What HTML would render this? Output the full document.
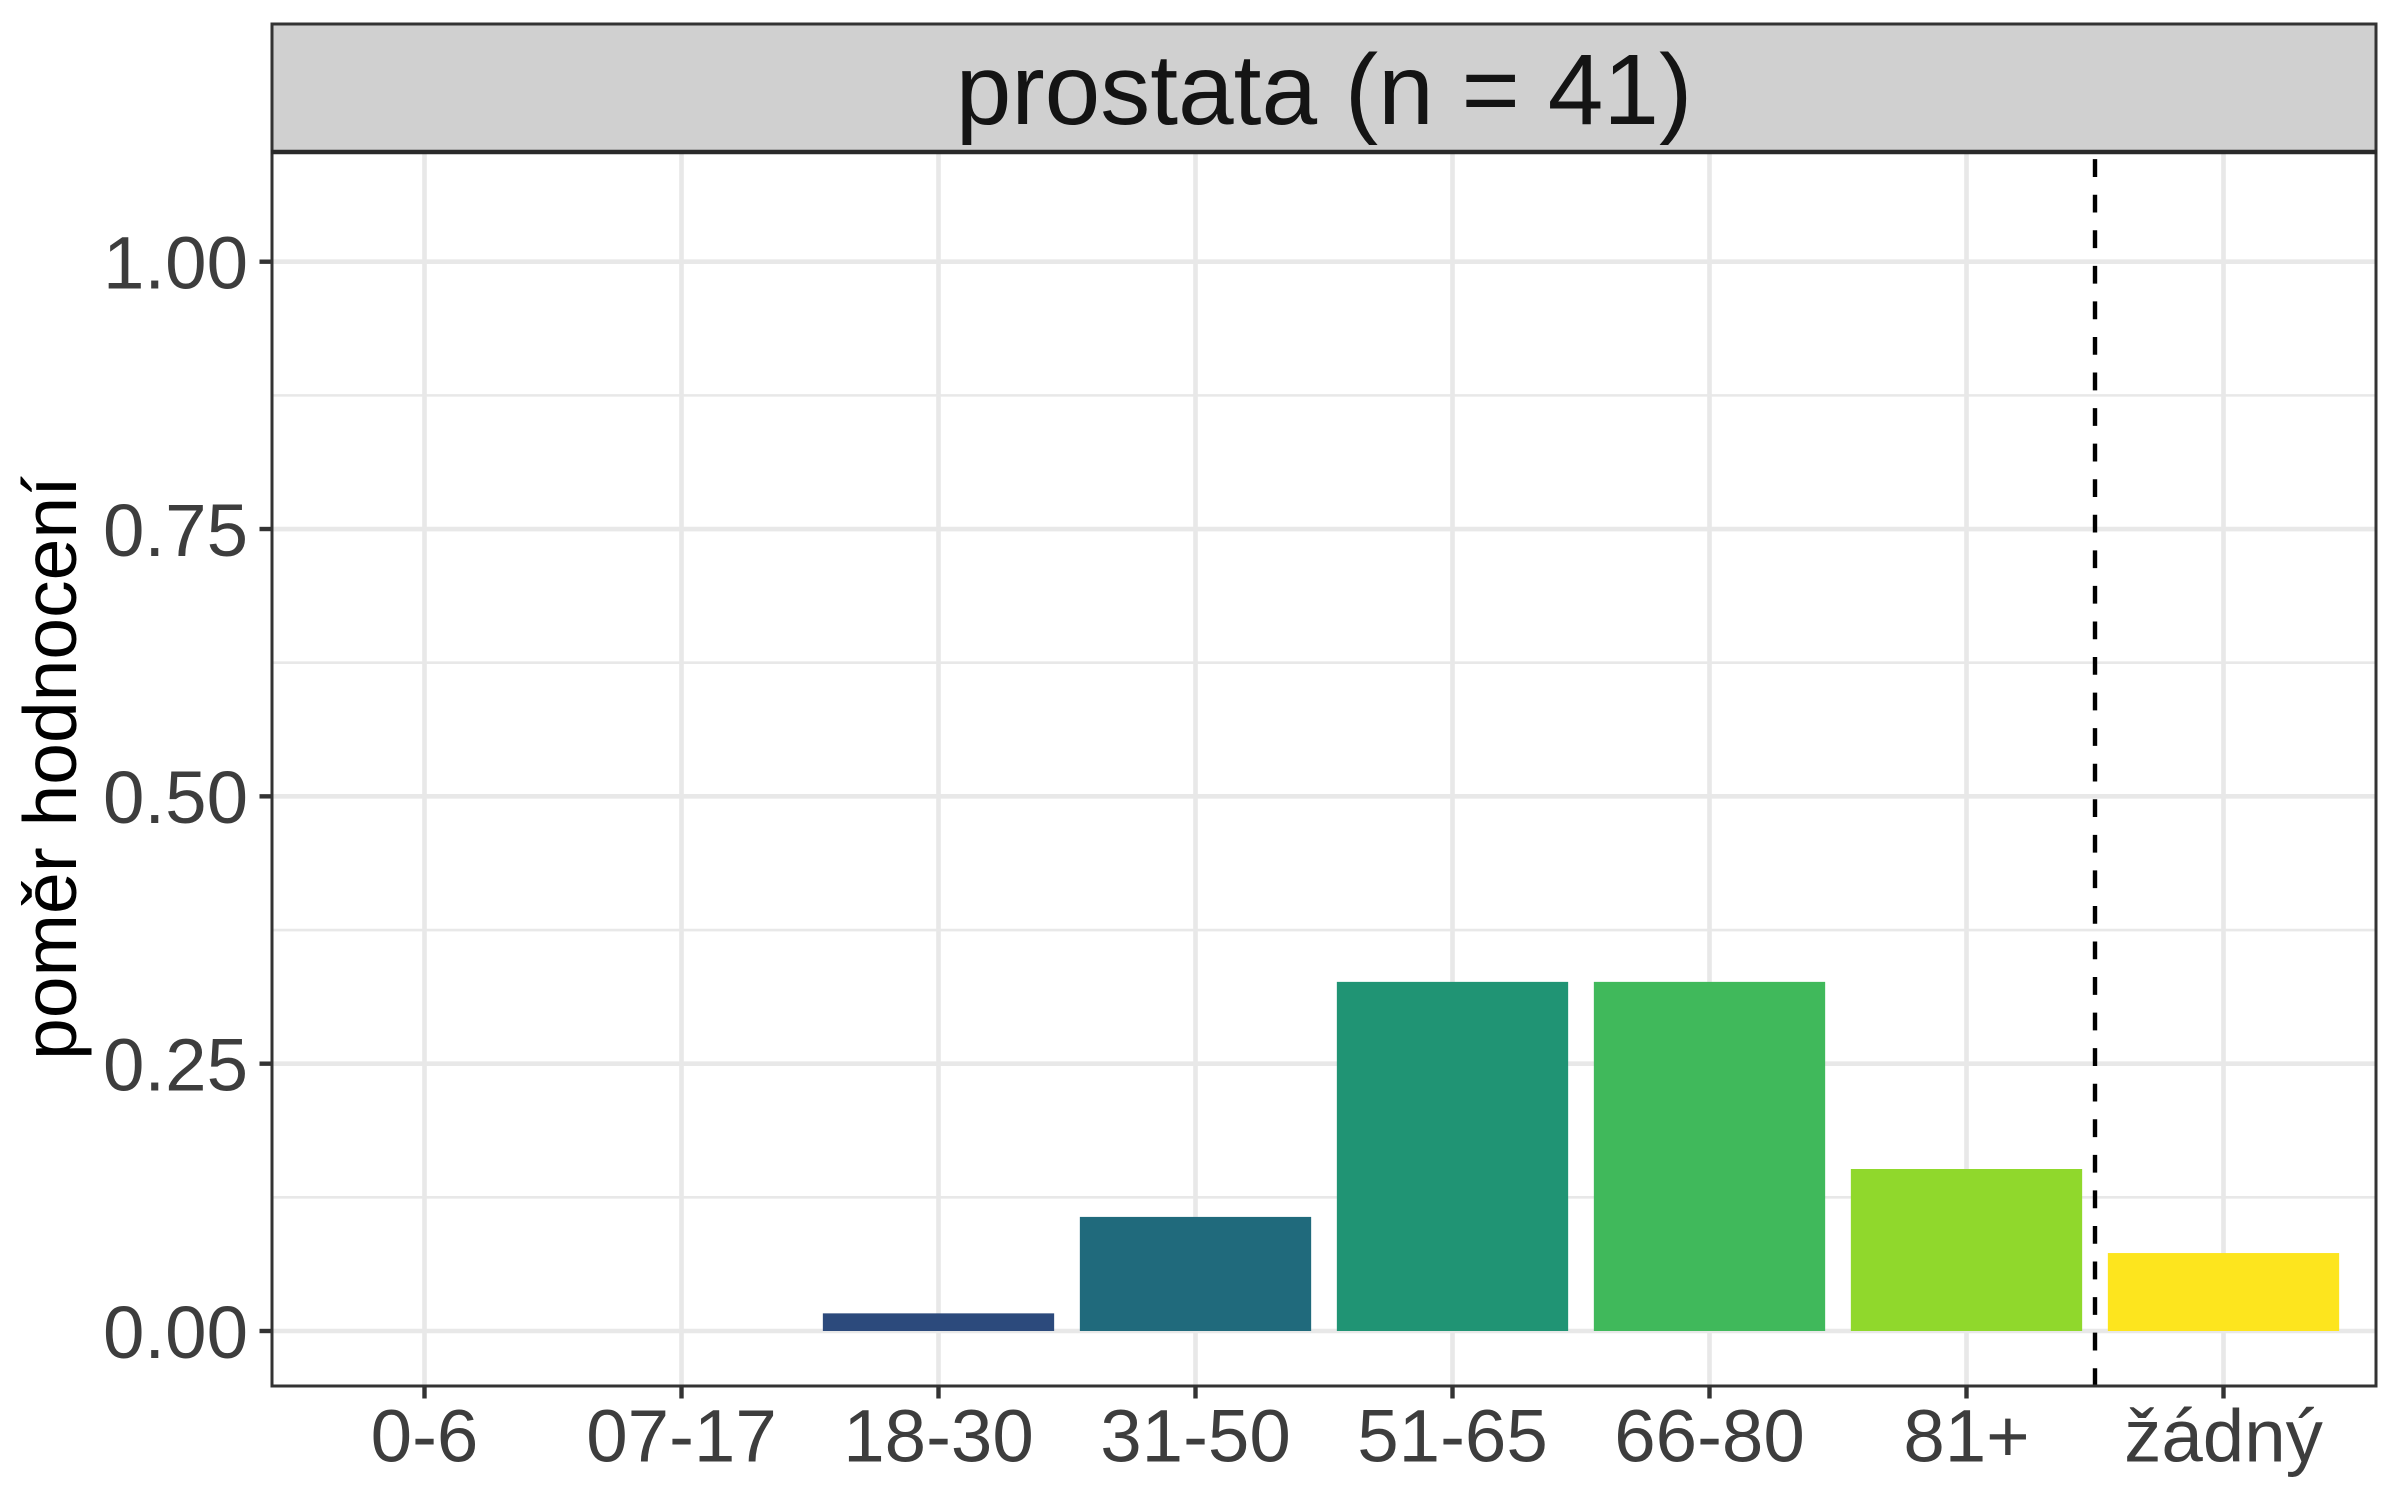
<!DOCTYPE html>
<html lang="cs">
<head>
<meta charset="utf-8">
<title>prostata (n = 41)</title>
<style>
html,body{margin:0;padding:0;background:#fff;width:2400px;height:1500px;overflow:hidden}
svg{display:block;font-family:"Liberation Sans",Arial,sans-serif}
</style>
</head>
<body>
<svg id="chart" xmlns="http://www.w3.org/2000/svg" width="2400" height="1500" viewBox="0 0 2400 1500">
  <rect x="0" y="0" width="2400" height="1500" fill="#ffffff"/>
  <rect x="272" y="152" width="2104" height="1234" fill="#ffffff"/>
  <g id="grid"></g>
  <g id="bars"></g>
  <g id="refline"></g>
  <rect x="272" y="152" width="2104" height="1234" fill="none" stroke="#333333" stroke-width="3"/>
  <rect x="272" y="24" width="2104" height="128" fill="#d0d0d0" stroke="#333333" stroke-width="3"/>
  <line x1="271" y1="152" x2="2377" y2="152" stroke="#2a2a2a" stroke-width="4.6"/>
  <text x="1324" y="124" text-anchor="middle" font-size="100" fill="#141414">prostata (n = 41)</text>
  <text transform="translate(76 768) rotate(-90)" text-anchor="middle" font-size="75" fill="#000000">poměr hodnocení</text>
  <g id="axes"></g>
</svg>
<script>
const categories = ['0-6', '07-17', '18-30', '31-50', '51-65', '66-80', '81+', 'žádný'];
const values = [0, 0, 0.0165, 0.1067, 0.3265, 0.3265, 0.1515, 0.0729];
const yMajorTicks = [0, 0.25, 0.5, 0.75, 1];
const yTickLabels = ['0.00', '0.25', '0.50', '0.75', '1.00'];
const yMinorTicks = [0.125, 0.375, 0.625, 0.875];
const referencePosition = 6.5;
const barColors = ['#440154', '#46337e', '#2c4a7c', '#206a7c', '#209474', '#40b95b', '#90d82c', '#fde51e'];

const NS = 'http://www.w3.org/2000/svg';
const panel = { left: 272, right: 2376, top: 152, bottom: 1386 };
function xScale(i) { return 424.5 + 257 * i; }
function yScale(v) { return 1331 - 1069.3 * v; }
const barWidth = 0.9 * 257;

function make(tag, parent, attrs) {
  const el = document.createElementNS(NS, tag);
  for (const k in attrs) el.setAttribute(k, attrs[k]);
  parent.appendChild(el);
  return el;
}

const grid = document.getElementById('grid');
const bars = document.getElementById('bars');
const refline = document.getElementById('refline');
const axes = document.getElementById('axes');

yMinorTicks.forEach(function (v) {
  const el = make('line', grid, { x1: panel.left, x2: panel.right, y1: yScale(v), y2: yScale(v), stroke: '#e8e8e8', 'stroke-width': 2.6 });
  
  
});
yMajorTicks.forEach(function (v) {
  const el = make('line', grid, { x1: panel.left, x2: panel.right, y1: yScale(v), y2: yScale(v), stroke: '#e8e8e8', 'stroke-width': 4.6 });
  
  
});
categories.forEach(function (c, i) {
  const el = make('line', grid, { x1: xScale(i), x2: xScale(i), y1: panel.top, y2: panel.bottom, stroke: '#e8e8e8', 'stroke-width': 4.6 });
  
  
});

values.forEach(function (v, i) {
  const el = make('rect', bars, {
    x: xScale(i) - barWidth / 2,
    y: yScale(v),
    width: barWidth,
    height: yScale(0) - yScale(v),
    fill: barColors[i]
  });
  
  
});

const ref = make('line', refline, {
  x1: xScale(referencePosition), x2: xScale(referencePosition),
  y1: panel.bottom, y2: panel.top,
  stroke: '#000000', 'stroke-width': 4.4, 'stroke-dasharray': '17.78 17.78'
});



yMajorTicks.forEach(function (v, i) {
  const tick = make('line', axes, { x1: panel.left - 12.5, x2: panel.left, y1: yScale(v), y2: yScale(v), stroke: '#333333', 'stroke-width': 4.4 });
  
  
  const label = make('text', axes, { x: 248, y: yScale(v) + 26.8, 'text-anchor': 'end', 'font-size': 74.5, fill: '#3d3d3d' });
  label.textContent = yTickLabels[i];
  
  
});
categories.forEach(function (c, i) {
  const tick = make('line', axes, { x1: xScale(i), x2: xScale(i), y1: panel.bottom, y2: panel.bottom + 12.5, stroke: '#333333', 'stroke-width': 4.4 });
  
  
  const label = make('text', axes, { x: xScale(i), y: 1461.5, 'text-anchor': 'middle', 'font-size': 74.5, fill: '#3d3d3d' });
  label.textContent = c;
  
  
});
</script>
</body>
</html>
